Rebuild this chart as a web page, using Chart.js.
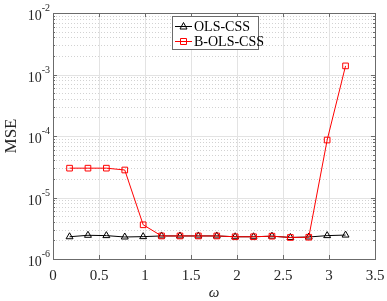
<!DOCTYPE html>
<html>
<head>
<meta charset="UTF-8">
<script src="https://cdn.jsdelivr.net/npm/chart.js@4.4.0/dist/chart.umd.min.js"></script>
<style>
  html, body { margin: 0; padding: 0; background: #fff; }
  #wrap { width: 387px; height: 301px; }
</style>
</head>
<body>
<div id="wrap"><canvas id="mseChart" width="387" height="301"></canvas></div>
<script>
// omega values (x)
var omega = [0.18, 0.38, 0.58, 0.78, 0.98, 1.18, 1.38, 1.58, 1.78, 1.98, 2.18, 2.38, 2.58, 2.78, 2.98, 3.18];
// MSE of each method
var olsCss = [2.3e-6, 2.43e-6, 2.4e-6, 2.28e-6, 2.31e-6, 2.37e-6, 2.37e-6, 2.37e-6, 2.37e-6, 2.3e-6, 2.3e-6, 2.35e-6, 2.24e-6, 2.28e-6, 2.4e-6, 2.45e-6];
var bOlsCss = [3.0e-5, 3.0e-5, 3.0e-5, 2.8e-5, 3.6e-6, 2.37e-6, 2.37e-6, 2.37e-6, 2.37e-6, 2.3e-6, 2.3e-6, 2.35e-6, 2.24e-6, 2.26e-6, 8.6e-5, 1.38e-3];
var seriesNames = ['OLS-CSS', 'B-OLS-CSS'];
var xTicks = [0, 0.5, 1, 1.5, 2, 2.5, 3, 3.5];
var xTickLabels = ['0', '0.5', '1', '1.5', '2', '2.5', '3', '3.5'];
var yExponents = [-6, -5, -4, -3, -2];

function toPoints(xs, ys) {
  return xs.map(function (x, i) { return { x: x, y: ys[i] }; });
}

var FONT = '"Liberation Serif", "Times New Roman", serif';
var AXIS_COLOR = '#6b6b6b';

// grid behind the data, box / labels / legend on top
var gridPlugin = {
  id: 'matlabGrid',
  beforeDatasetsDraw: function (chart) {
    var ctx = chart.ctx, a = chart.chartArea;
    var xs = chart.scales.x, ys = chart.scales.y;
    ctx.save();
    // minor y grid (dotted)
    ctx.strokeStyle = '#d2d2d2';
    ctx.lineWidth = 1;
    ctx.setLineDash([1, 2]);
    for (var e = -6; e < -2; e++) {
      for (var m = 2; m <= 9; m++) {
        var py = Math.round(ys.getPixelForValue(m * Math.pow(10, e))) + 0.5;
        ctx.beginPath(); ctx.moveTo(a.left, py); ctx.lineTo(a.right, py); ctx.stroke();
      }
    }
    ctx.setLineDash([]);
    // major grid
    ctx.strokeStyle = '#e3e3e3';
    yExponents.forEach(function (e) {
      var py = Math.round(ys.getPixelForValue(Math.pow(10, e))) + 0.5;
      ctx.beginPath(); ctx.moveTo(a.left, py); ctx.lineTo(a.right, py); ctx.stroke();
    });
    xTicks.forEach(function (t) {
      var px = Math.round(xs.getPixelForValue(t)) + 0.5;
      ctx.beginPath(); ctx.moveTo(px, a.top); ctx.lineTo(px, a.bottom); ctx.stroke();
    });
    ctx.restore();
  },
  afterDraw: function (chart) {
    var ctx = chart.ctx, a = chart.chartArea;
    var xs = chart.scales.x, ys = chart.scales.y;
    ctx.save();
    // box
    ctx.strokeStyle = AXIS_COLOR;
    ctx.lineWidth = 1;
    ctx.strokeRect(Math.round(a.left) + 0.5, Math.round(a.top) + 0.5,
      Math.round(a.right - a.left), Math.round(a.bottom - a.top));
    // ticks inside, all four sides
    ctx.beginPath();
    xTicks.forEach(function (t) {
      var px = Math.round(xs.getPixelForValue(t)) + 0.5;
      ctx.moveTo(px, a.bottom); ctx.lineTo(px, a.bottom - 4);
      ctx.moveTo(px, a.top); ctx.lineTo(px, a.top + 4);
    });
    for (var e = -6; e <= -2; e++) {
      for (var m = 1; m <= 9; m++) {
        if (e === -2 && m > 1) break;
        var py = Math.round(ys.getPixelForValue(m * Math.pow(10, e))) + 0.5;
        var len = m === 1 ? 4 : 2;
        ctx.moveTo(a.left, py); ctx.lineTo(a.left + len, py);
        ctx.moveTo(a.right, py); ctx.lineTo(a.right - len, py);
      }
    }
    ctx.stroke();

    // tick labels
    ctx.fillStyle = '#262626';
    ctx.font = '15px ' + FONT;
    ctx.textAlign = 'center';
    ctx.textBaseline = 'alphabetic';
    xTicks.forEach(function (t, i) {
      ctx.fillText(xTickLabels[i], xs.getPixelForValue(t), a.bottom + 21);
    });
    yExponents.forEach(function (e) {
      var py = ys.getPixelForValue(Math.pow(10, e));
      var sup = String(e);
      ctx.font = '10px ' + FONT;
      var wSup = ctx.measureText(sup).width;
      ctx.textAlign = 'right';
      ctx.fillText(sup, a.left - 3, py - 2);
      ctx.font = '14px ' + FONT;
      ctx.fillText('10', a.left - 3 - wSup, py + 7);
    });

    // axis titles
    ctx.textAlign = 'center';
    ctx.font = 'italic 15px ' + FONT;
    ctx.fillText('\u03c9', (a.left + a.right) / 2, 297);
    ctx.save();
    ctx.translate(16, (a.top + a.bottom) / 2);
    ctx.rotate(-Math.PI / 2);
    ctx.font = '17px ' + FONT;
    ctx.fillText('MSE', 0, 0);
    ctx.restore();

    // legend box
    var lx = 172, ly = 16, lw = 86, lh = 33;
    ctx.fillStyle = '#fff';
    ctx.fillRect(lx, ly, lw, lh);
    ctx.strokeStyle = '#6b6b6b';
    ctx.strokeRect(lx + 0.5, ly + 0.5, lw, lh);
    var colors = ['#000000', '#ff0000'];
    var rows = [ly + 10, ly + 25];
    seriesNames.forEach(function (name, i) {
      var ry = rows[i] + 0.5;
      ctx.strokeStyle = colors[i];
      ctx.lineWidth = 1;
      ctx.beginPath(); ctx.moveTo(lx + 3, ry); ctx.lineTo(lx + 20, ry); ctx.stroke();
      var cx = lx + 11.5;
      ctx.beginPath();
      if (i === 0) {
        ctx.moveTo(cx, ry - 4); ctx.lineTo(cx + 3.5, ry + 2.5); ctx.lineTo(cx - 3.5, ry + 2.5); ctx.closePath();
      } else {
        ctx.rect(cx - 3, ry - 3, 6, 6);
      }
      ctx.stroke();
      ctx.fillStyle = '#000';
      ctx.textAlign = 'left';
      ctx.font = '14px ' + FONT;
      ctx.fillText(name, lx + 22, rows[i] + 5);
    });
    ctx.restore();
  }
};

var ctx = document.getElementById('mseChart').getContext('2d');
var mseChart = new Chart(ctx, {
  type: 'line',
  data: {
    datasets: [{
      label: seriesNames[0],
      data: toPoints(omega, olsCss),
      borderColor: '#000000',
      backgroundColor: 'rgba(0,0,0,0)',
      borderWidth: 1,
      pointStyle: 'triangle',
      pointRadius: 4,
      pointBorderWidth: 1,
      pointBorderColor: '#000000',
      pointBackgroundColor: 'rgba(0,0,0,0)',
      tension: 0,
      order: 2
    }, {
      label: seriesNames[1],
      data: toPoints(omega, bOlsCss),
      borderColor: '#ff0000',
      backgroundColor: 'rgba(0,0,0,0)',
      borderWidth: 1,
      pointStyle: 'rect',
      pointRadius: 4,
      pointBorderWidth: 1,
      pointBorderColor: '#ff0000',
      pointBackgroundColor: 'rgba(0,0,0,0)',
      tension: 0,
      order: 1
    }]
  },
  options: {
    responsive: false,
    animation: false,
    layout: { padding: { left: 53, right: 12, top: 13, bottom: 42 } },
    plugins: { legend: { display: false }, tooltip: { enabled: false } },
    scales: {
      x: { type: 'linear', min: 0, max: 3.5, display: false },
      y: { type: 'logarithmic', min: 1e-6, max: 1e-2, display: false }
    }
  },
  plugins: [gridPlugin]
});
</script>
</body>
</html>
